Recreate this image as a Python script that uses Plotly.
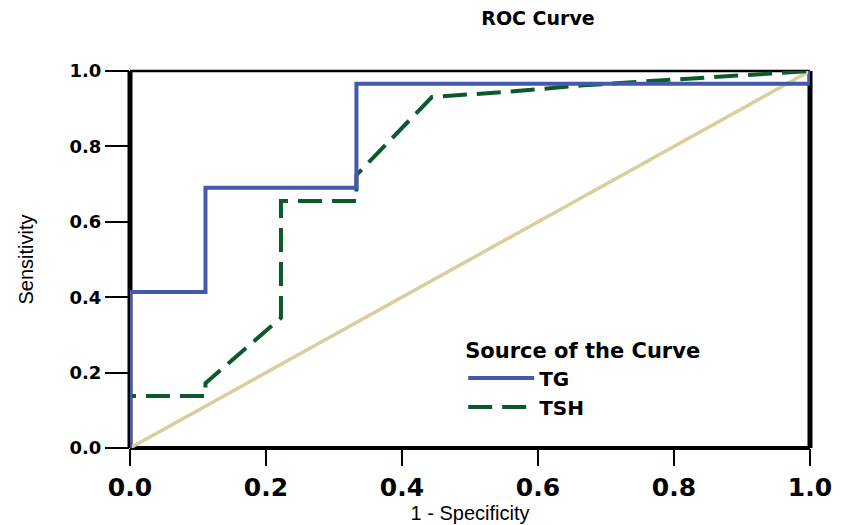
import plotly.graph_objects as go

# ROC data (1 - specificity, sensitivity)
tg_fpr = [0.0, 0.0, 0.111, 0.111, 0.333, 0.333, 1.0, 1.0]
tg_tpr = [0.0, 0.414, 0.414, 0.690, 0.690, 0.966, 0.966, 1.0]

tsh_fpr = [0.0, 0.0, 0.111, 0.111, 0.222, 0.222, 0.333, 0.333, 0.444, 0.556, 0.667, 0.778, 0.889, 1.0]
tsh_tpr = [0.0, 0.138, 0.138, 0.172, 0.345, 0.655, 0.655, 0.724, 0.931, 0.945, 0.962, 0.975, 0.988, 1.0]

ref_x = [0.0, 1.0]
ref_y = [0.0, 1.0]

tick_vals = [0.0, 0.2, 0.4, 0.6, 0.8, 1.0]
tick_text = ["0.0", "0.2", "0.4", "0.6", "0.8", "1.0"]

BLUE = "#4259AD"
GREEN = "#0B5A2B"
TAN = "#D8D09A"
BOLD = "DejaVu Sans"

fig = go.Figure()
fig.add_trace(go.Scatter(x=ref_x, y=ref_y, mode="lines",
                         line=dict(color=TAN, width=3.5), showlegend=False, hoverinfo="skip"))
fig.add_trace(go.Scatter(x=tsh_fpr, y=tsh_tpr, mode="lines", name="<b>TSH</b>",
                         line=dict(color=GREEN, width=4, dash="24px,10px")))
fig.add_trace(go.Scatter(x=tg_fpr, y=tg_tpr, mode="lines", name="<b>TG</b>",
                         line=dict(color=BLUE, width=4)))

# Frame
frame = [
    dict(x0=0, x1=0, y0=0, y1=1, w=5),
    dict(x0=1, x1=1, y0=0, y1=1, w=5),
    dict(x0=0, x1=1, y0=0, y1=0, w=4),
    dict(x0=0, x1=1, y0=1, y1=1, w=2.5),
]
for f in frame:
    fig.add_shape(type="line", xref="x domain", yref="y domain",
                  x0=f["x0"], x1=f["x1"], y0=f["y0"], y1=f["y1"],
                  line=dict(color="black", width=f["w"]), layer="below")

fig.update_layout(
    width=843, height=525,
    margin=dict(l=122, r=41, t=63, b=85, autoexpand=False),
    paper_bgcolor="white", plot_bgcolor="white",
    title=dict(text="<b>ROC Curve</b>", x=530 / 843, xanchor="center",
               y=1 - 10 / 525, yanchor="middle",
               font=dict(family=BOLD, size=19, color="black")),
    legend=dict(
        title=dict(text="<b>Source of the Curve</b>", font=dict(family=BOLD, size=21, color="black")),
        font=dict(family=BOLD, size=20, color="black"),
        traceorder="reversed",
        x=0.49, y=0.31, xanchor="left", yanchor="top",
        bgcolor="rgba(0,0,0,0)", itemwidth=66, tracegroupgap=0,
    ),
    xaxis=dict(range=[0, 1], tickvals=tick_vals, ticktext=["<b>%s</b>" % t for t in tick_text],
               showgrid=False, zeroline=False, showline=False, automargin=False,
               ticks="outside", ticklen=17, tickwidth=1.5, tickcolor="black",
               tickfont=dict(family=BOLD, size=25, color="black"),
               title=dict(text="1 - Specificity", standoff=0,
                          font=dict(family="Liberation Sans", size=20, color="black"))),
    yaxis=dict(range=[0, 1], tickvals=tick_vals, ticktext=["<b>%s</b>" % t for t in tick_text],
               showgrid=False, zeroline=False, showline=False, automargin=False,
               ticks="outside", ticklen=24, tickwidth=1.5, tickcolor="black",
               tickfont=dict(family=BOLD, size=18, color="black"),
               title=dict(text="Sensitivity", standoff=30,
                          font=dict(family="Liberation Sans Narrow, Liberation Sans", size=20, color="black"))),
)

fig.write_html("out.html")
